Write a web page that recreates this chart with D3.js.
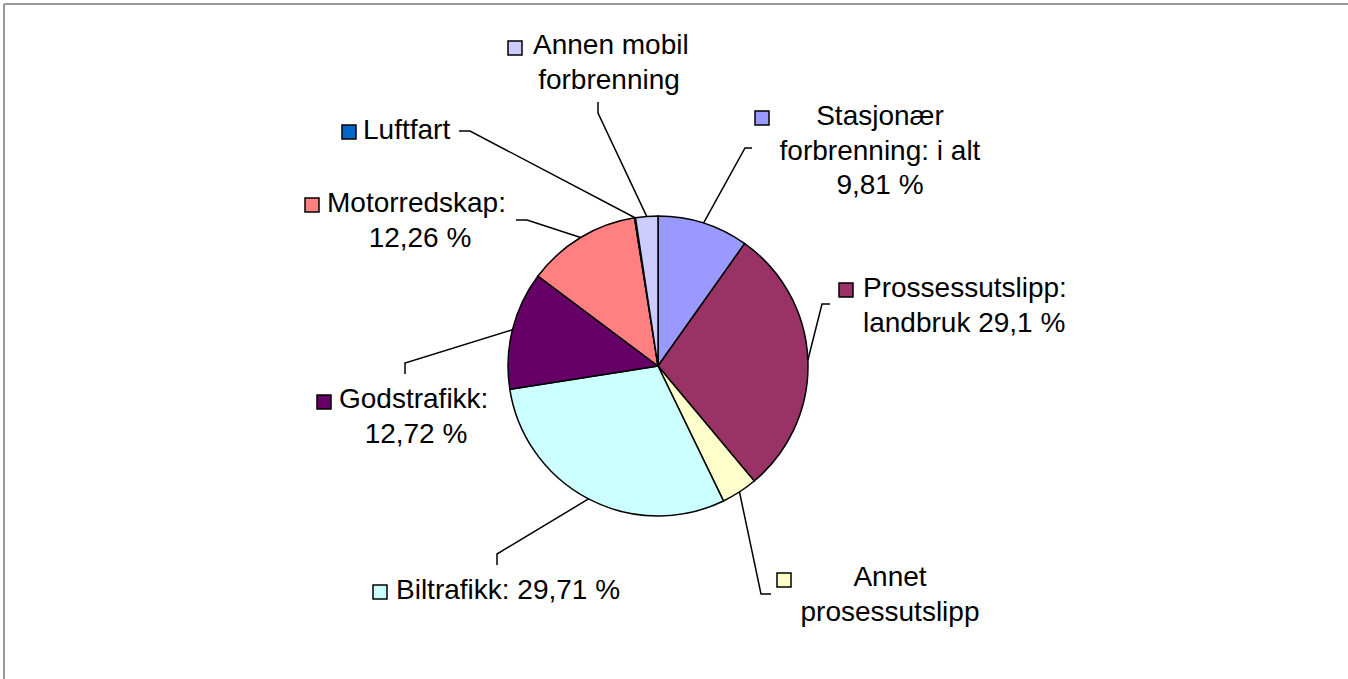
<!DOCTYPE html>
<html>
<head>
<meta charset="utf-8">
<script src="https://cdn.jsdelivr.net/npm/d3@7"></script>
<style>
  body { margin: 0; background: #fff; }
  svg text { font-family: "Liberation Sans", Arial, sans-serif; font-size: 28px; fill: #000; }
</style>
</head>
<body>
<svg id="chart" width="1348" height="679"></svg>
<script>
// slices, clockwise from 12 o'clock
const categories = ['Stasjonær forbrenning: i alt', 'Prosessutslipp: landbruk', 'Annet prosessutslipp',
  'Biltrafikk', 'Godstrafikk', 'Motorredskap', 'Luftfart', 'Annen mobil forbrenning'];
const values = [9.81, 29.1, 3.9, 29.71, 12.72, 12.26, 0.1, 2.4];
const colors = ['#9999FF', '#993366', '#FFFFCC', '#CCFFFF', '#660066', '#FF8080', '#0066CC', '#CCCCFF'];
// label text lines as shown in the chart
const labelLines = [
  ['Stasjonær', 'forbrenning: i alt', '9,81 %'],
  ['Prossessutslipp:', 'landbruk 29,1 %'],
  ['Annet', 'prosessutslipp'],
  ['Biltrafikk: 29,71 %'],
  ['Godstrafikk:', '12,72 %'],
  ['Motorredskap:', '12,26 %'],
  ['Luftfart'],
  ['Annen mobil', 'forbrenning']
];

// label layout: key box top-left (kx, ky), first baseline ty,
// text x (tx) with anchor, optional centre for later lines, leader bend + tail
const layout = [
  { kx: 755, ky: 111, tx: 880, ty: 125, anchor: 'middle', elbow: [745, 148], tail: [752, 148] },
  { kx: 839, ky: 283, tx: 863, ty: 297, anchor: 'start', elbow: [822, 304], tail: [830, 304] },
  { kx: 777, ky: 573, tx: 890, ty: 586, anchor: 'middle', elbow: [761, 594], tail: [771, 594] },
  { kx: 373, ky: 585, tx: 396, ty: 599, anchor: 'start', elbow: [497, 554], tail: [497, 565] },
  { kx: 317, ky: 395, tx: 339, ty: 408, anchor: 'start', center: 416, elbow: [405, 363], tail: [405, 374] },
  { kx: 305, ky: 198, tx: 327, ty: 212, anchor: 'start', center: 420, elbow: [527, 220], tail: [516, 220] },
  { kx: 342, ky: 125, tx: 363, ty: 139, anchor: 'start', elbow: [470, 131], tail: [459, 131] },
  { kx: 508, ky: 41, tx: 533, ty: 54, anchor: 'start', center: 609, elbow: [598, 113], tail: [598, 102] }
];

const svg = d3.select('#chart');
const cx = 658, cy = 366, radius = 150;
const lineH = 34.5;

// chart area border (top and left visible)
svg.append('line').attr('x1', 4).attr('y1', 4).attr('x2', 1348).attr('y2', 4)
  .attr('stroke', '#999').attr('stroke-width', 2);
svg.append('line').attr('x1', 4).attr('y1', 4).attr('x2', 4).attr('y2', 679)
  .attr('stroke', '#999').attr('stroke-width', 2);

const pie = d3.pie().sort(null).value(d => d)(values);
const arc = d3.arc().innerRadius(0).outerRadius(radius);

const g = svg.append('g').attr('transform', `translate(${cx},${cy})`);
g.selectAll('path')
  .data(pie)
  .join('path')
  .attr('d', arc)
  .attr('fill', (d, i) => colors[i])
  .attr('stroke', '#000')
  .attr('stroke-width', 1.5);

// leader lines
pie.forEach((d, i) => {
  const a = (d.startAngle + d.endAngle) / 2;
  const sx = cx + radius * Math.sin(a);
  const sy = cy - radius * Math.cos(a);
  const L = layout[i];
  svg.append('polyline')
    .attr('points', [[sx, sy], L.elbow, L.tail].map(p => p.join(',')).join(' '))
    .attr('fill', 'none')
    .attr('stroke', '#000')
    .attr('stroke-width', 1.5);
});

// labels
layout.forEach((L, i) => {
  svg.append('rect')
    .attr('x', L.kx).attr('y', L.ky)
    .attr('width', 14).attr('height', 14)
    .attr('fill', colors[i])
    .attr('stroke', '#000').attr('stroke-width', 1.5);
  labelLines[i].forEach((t, j) => {
    const txt = svg.append('text')
      .attr('y', L.ty + j * lineH)
      .text(t);
    if (j > 0 && L.center) {
      txt.attr('x', L.center).attr('text-anchor', 'middle');
    } else {
      txt.attr('x', L.tx).attr('text-anchor', L.anchor);
    }
  });
});
</script>
</body>
</html>
